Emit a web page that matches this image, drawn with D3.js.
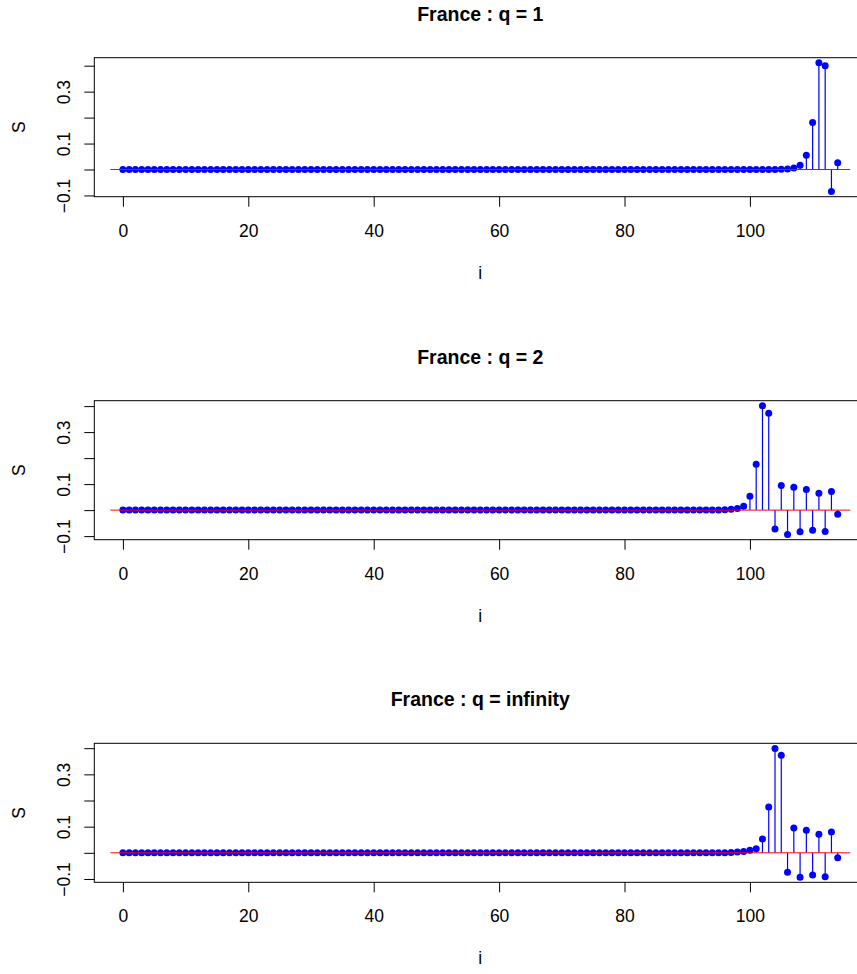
<!DOCTYPE html>
<html>
<head>
<meta charset="utf-8">
<script src="https://cdn.jsdelivr.net/npm/d3@7"></script>
<style>
  body { margin: 0; background: #fff; }
  svg text { font-family: "Liberation Sans", Arial, sans-serif; fill: #000; }
</style>
</head>
<body>
<svg id="chart" width="857" height="974"></svg>
<script>
// index i = 0..114
const titles = ['France : q = 1', 'France : q = 2', 'France : q = infinity']

const s1 = [
  0, 0, 0, 0, 0, 0, 0, 0, 0, 0, 0, 0, 0, 0, 0, 0, 0, 0, 0, 0,
  0, 0, 0, 0, 0, 0, 0, 0, 0, 0, 0, 0, 0, 0, 0, 0, 0, 0, 0, 0,
  0, 0, 0, 0, 0, 0, 0, 0, 0, 0, 0, 0, 0, 0, 0, 0, 0, 0, 0, 0,
  0, 0, 0, 0, 0, 0, 0, 0, 0, 0, 0, 0, 0, 0, 0, 0, 0, 0, 0, 0,
  0, 0, 0, 0, 0, 0, 0, 0, 0, 0, 0, 0, 0, 0, 0, 0, 0, 0, 0, 0,
  0, 0, 0, 0, 0, 0.001, 0.002, 0.006, 0.016, 0.055, 0.181, 0.411, 0.400, -0.085, 0.026
]

const s2 = [
  0, 0, 0, 0, 0, 0, 0, 0, 0, 0, 0, 0, 0, 0, 0, 0, 0, 0, 0, 0,
  0, 0, 0, 0, 0, 0, 0, 0, 0, 0, 0, 0, 0, 0, 0, 0, 0, 0, 0, 0,
  0, 0, 0, 0, 0, 0, 0, 0, 0, 0, 0, 0, 0, 0, 0, 0, 0, 0, 0, 0,
  0, 0, 0, 0, 0, 0, 0, 0, 0, 0, 0, 0, 0, 0, 0, 0, 0, 0, 0, 0,
  0, 0, 0, 0, 0, 0, 0, 0, 0, 0, 0, 0, 0, 0, 0, 0, 0.001, 0.003, 0.006, 0.015,
  0.053, 0.176, 0.401, 0.373, -0.073, 0.095, -0.094, 0.088, -0.083, 0.079, -0.077, 0.065, -0.082, 0.072, -0.016
]

const s3 = [
  0, 0, 0, 0, 0, 0, 0, 0, 0, 0, 0, 0, 0, 0, 0, 0, 0, 0, 0, 0,
  0, 0, 0, 0, 0, 0, 0, 0, 0, 0, 0, 0, 0, 0, 0, 0, 0, 0, 0, 0,
  0, 0, 0, 0, 0, 0, 0, 0, 0, 0, 0, 0, 0, 0, 0, 0, 0, 0, 0, 0,
  0, 0, 0, 0, 0, 0, 0, 0, 0, 0, 0, 0, 0, 0, 0, 0, 0, 0, 0, 0,
  0, 0, 0, 0, 0, 0, 0, 0, 0, 0, 0, 0, 0, 0, 0, 0, 0, 0.001, 0.003, 0.005,
  0.010, 0.016, 0.053, 0.175, 0.399, 0.373, -0.074, 0.095, -0.093, 0.086, -0.085, 0.071, -0.091, 0.080, -0.019
]

const series = [s1, s2, s3]
const xTicks = [0, 20, 40, 60, 80, 100]
const yTicks = [-0.1, 0, 0.1, 0.2, 0.3, 0.4]
const yTickLabels = ['\u22120.1', '', '0.1', '', '0.3', '']
const zeroLineX = [-2, 116]   // the red reference line at S = 0

const svg = d3.select('#chart')
const boxLeft = 94.3, boxRight = 866.3
const boxTops = [57.7, 400.7, 743.3]
const boxH = 139
const tick = 10
const fs = '17.5px'

series.forEach((vals, k) => {
  const top = boxTops[k], bottom = top + boxH
  const n = vals.length
  // R style: extend the data range by 4% each side
  const xr = n - 1
  const x = d3.scaleLinear().domain([-0.04 * xr, xr * 1.04]).range([boxLeft, boxRight])
  const [lo, hi] = d3.extent(vals)
  const yr = hi - lo
  const y = d3.scaleLinear().domain([lo - 0.04 * yr, hi + 0.04 * yr]).range([bottom, top])

  const g = svg.append('g')

  // axes
  const xAxis = g.append('g').attr('transform', `translate(0,${bottom})`)
    .call(d3.axisBottom(x).tickValues(xTicks).tickSize(tick).tickPadding(0).tickFormat(d => d))
  xAxis.select('.domain').remove()
  xAxis.selectAll('line').attr('stroke', '#000')
  xAxis.selectAll('text').attr('y', 40).attr('dy', 0).style('font-size', fs)

  const yAxis = g.append('g').attr('transform', `translate(${boxLeft},0)`)
    .call(d3.axisLeft(y).tickValues(yTicks).tickSize(tick).tickFormat((d, i) => yTickLabels[i]))
  yAxis.select('.domain').remove()
  yAxis.selectAll('line').attr('stroke', '#000')
  yAxis.selectAll('text')
    .attr('x', null).attr('dy', null)
    .attr('transform', `translate(${70 - boxLeft},0) rotate(-90)`)
    .attr('text-anchor', 'middle')
    .style('font-size', fs)

  // stems
  g.selectAll('.stem').data(vals).enter().append('line')
    .attr('x1', (d, i) => x(i)).attr('x2', (d, i) => x(i))
    .attr('y1', y(0)).attr('y2', d => y(d))
    .attr('stroke', '#0000ff').attr('stroke-width', 1.2)

  // points
  g.selectAll('.pt').data(vals).enter().append('circle')
    .attr('cx', (d, i) => x(i)).attr('cy', d => y(d))
    .attr('r', 3.5).attr('fill', '#0000ff')

  // red zero line, drawn over the points
  g.append('line')
    .attr('x1', x(zeroLineX[0])).attr('x2', x(zeroLineX[1]))
    .attr('y1', y(0)).attr('y2', y(0))
    .attr('stroke', '#ff0000').attr('stroke-width', 1)

  // box
  g.append('rect')
    .attr('x', boxLeft).attr('y', top)
    .attr('width', boxRight - boxLeft).attr('height', boxH)
    .attr('fill', 'none').attr('stroke', '#000').attr('stroke-width', 1)

  // titles and axis labels
  g.append('text').attr('x', (boxLeft + boxRight) / 2).attr('y', top - 37)
    .attr('text-anchor', 'middle').style('font-size', '19.5px').style('font-weight', 'bold')
    .text(titles[k])
  g.append('text').attr('x', (boxLeft + boxRight) / 2).attr('y', bottom + 82)
    .attr('text-anchor', 'middle').style('font-size', fs).text('i')
  g.append('text').attr('transform', `translate(25,${(top + bottom) / 2}) rotate(-90)`)
    .attr('text-anchor', 'middle').style('font-size', fs).text('S')
})
</script>
</body>
</html>
